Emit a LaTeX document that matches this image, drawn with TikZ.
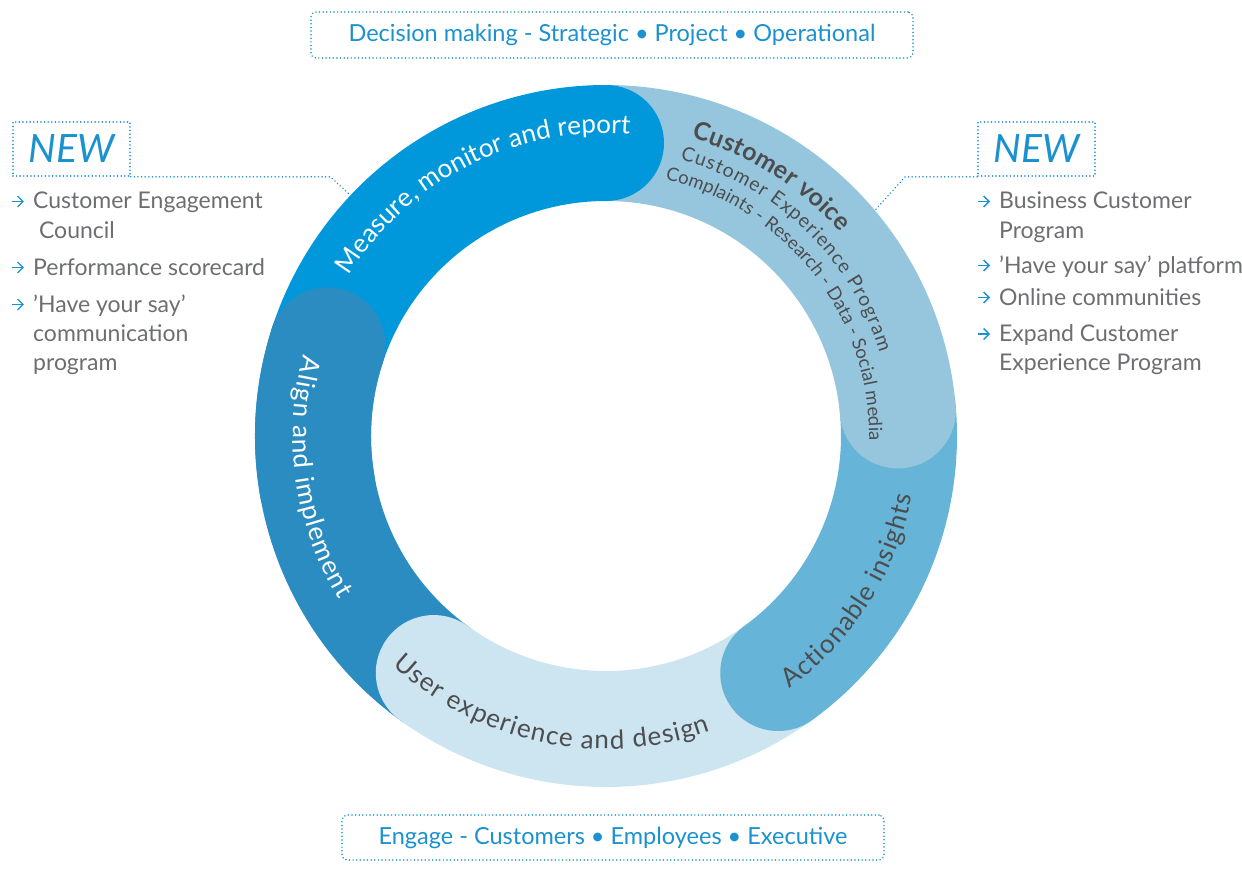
\documentclass[tikz,border=0pt]{standalone}
\usepackage{fontspec}
\setmainfont{Lato}
\usetikzlibrary{decorations.text,positioning,arrows.meta}

\definecolor{measureblue}{RGB}{0,152,218}
\definecolor{voiceblue}{RGB}{150,198,222}
\definecolor{insightblue}{RGB}{102,180,215}
\definecolor{uxblue}{RGB}{204,229,240}
\definecolor{alignblue}{RGB}{43,140,193}
\definecolor{boxblue}{RGB}{27,145,207}
\definecolor{ringgrey}{RGB}{77,77,79}
\definecolor{listgrey}{RGB}{109,110,113}

\begin{document}
\begin{tikzpicture}[x=1pt,y=1pt,
	ringtext/.style={decorate,decoration={text along path,text align=fit to path,text={#1}}}]
	\tikzstyle{seg}=[line width=116pt,line cap=round]
	\tikzstyle{dotline}=[draw=boxblue,line width=1.7pt,dash pattern=on 0.01pt off 3.6pt,line cap=round]
	\tikzstyle{framebox}=[dotline,rounded corners=5pt,text=boxblue,font=\fontsize{23.5}{23.5}\selectfont]
	\tikzstyle{newbox}=[dotline,text=boxblue,font=\fontsize{39}{39}\selectfont\itshape,
	                    minimum width=117pt,minimum height=54pt,inner sep=0pt]
	\tikzstyle{listtext}=[anchor=base west,inner sep=0pt,text=listgrey,font=\fontsize{23}{23}\selectfont]
	\tikzstyle{bul}=[draw=boxblue,line width=1.4pt,-{Straight Barb[length=5.5pt,width=11pt,line width=1.4pt]}]

	\useasboundingbox (-606,-440) rectangle (636,436);

	\draw[seg,alignblue]	(234:293pt) arc[start angle=234,end angle=162,radius=293pt];
	\draw[seg,uxblue]		(-54:293pt) arc[start angle=-54,end angle=-126,radius=293pt];
	\draw[seg,insightblue]	(5:293pt)   arc[start angle=5,end angle=-54,radius=293pt];
	\draw[seg,voiceblue]	(90:293pt)  arc[start angle=90,end angle=5,radius=293pt];
	\draw[seg,measureblue]	(162:293pt) arc[start angle=162,end angle=90,radius=293pt];
	\draw[seg,alignblue]	(190:293pt) arc[start angle=190,end angle=162,radius=293pt];

	\path[ringtext={|\fontsize{26}{26}\selectfont\color{white}|Measure, monitor and report}]
		(148:303pt) arc[start angle=148,end angle=85.5,radius=303pt];
	\path[ringtext={|\fontsize{25}{25}\selectfont\bfseries\color{ringgrey}|Customer voice}]
		(74:310pt) arc[start angle=74,end angle=41,radius=310pt];
	\path[ringtext={|\fontsize{19.5}{19.5}\selectfont\color{ringgrey}|Customer Experience Program}]
		(75:286pt) arc[start angle=75,end angle=17,radius=286pt];
	\path[ringtext={|\fontsize{18.5}{18.5}\selectfont\color{ringgrey}|Complaints - Research - Data - Social media}]
		(77:263pt) arc[start angle=77,end angle=-1,radius=263pt];
	\path[ringtext={|\fontsize{26}{26}\selectfont\color{ringgrey}|Actionable insights}]
		(-54:312pt) arc[start angle=-54,end angle=-11,radius=312pt];
	\path[ringtext={|\fontsize{26}{26}\selectfont\color{ringgrey}|User experience and design}]
		(-133:313pt) arc[start angle=-133,end angle=-70.5,radius=313pt];
	\path[ringtext={|\fontsize{26}{26}\selectfont\color{white}|Align and implement}]
		(165:313pt) arc[start angle=165,end angle=211.5,radius=313pt];

	\node[framebox,minimum width=602pt,minimum height=46pt]	(decision)	at (6,401)
		{Decision making - Strategic • Project • Operational\hspace{10pt}};
	\node[framebox,minimum width=542pt,minimum height=45pt]	(engage)	at (7,-401.5)
		{Engage - Customers • Employees • Executive};

	\node[newbox]	(newL)	at (-534.6,287)	{NEW};
	\node[newbox]	(newR)	at (430.5,287)	{NEW};
	\coordinate (hookL) at (136.7:351pt);
	\coordinate (hookR) at (40:351pt);
	\draw[dotline] (newL.south east) -- ++(199.6,0) -- (hookL);
	\draw[dotline] (newR.south west) -- ++(-72,0) -- (hookR);

	\foreach \yy in {227,161,124}
		\draw[bul] (-594,\yy+7.5) -- ++(12,0);
	\foreach \n/\yy/\t in {1/227/Customer Engagement,2/198/\ Council,3/161/Performance scorecard,
	                       4/124/'Have your say',5/94.5/communication,6/65.5/program}
		\node[listtext] (itemL\n) at (-573,\yy) {\t};

	\foreach \yy in {227,163,131,94.5}
		\draw[bul] (372,\yy+7.5) -- ++(12,0);
	\foreach \n/\yy/\t in {1/227/Business Customer,2/198/Program,3/163/'Have your say' platform,
	                       4/131/Online communities,5/94.5/Expand Customer,6/66/Experience Program}
		\node[listtext] (itemR\n) at (393,\yy) {\t};
\end{tikzpicture}
\end{document}
